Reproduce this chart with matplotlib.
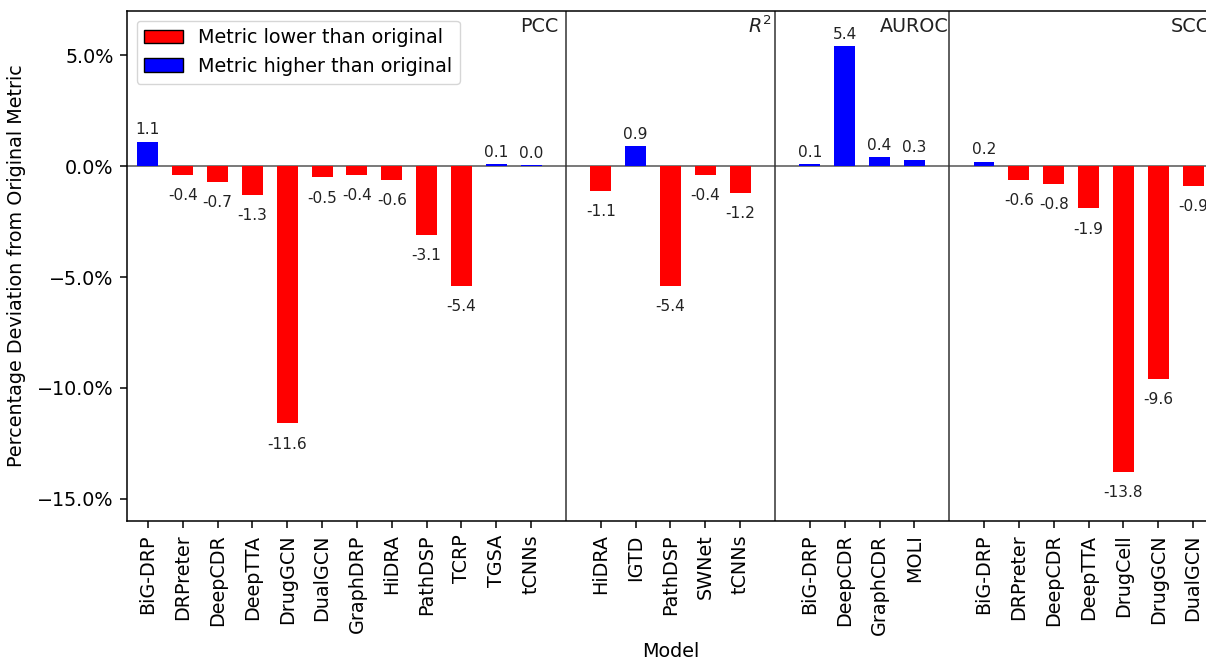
# percentage deviation of each model's metric from the original paper
import matplotlib
matplotlib.use('Agg')
import matplotlib.pyplot as plt
from matplotlib.patches import Patch
from matplotlib.ticker import PercentFormatter
import matplotlib.transforms as mtransforms

# groups of models, one list per metric
pcc_models = ['BiG-DRP', 'DRPreter', 'DeepCDR', 'DeepTTA', 'DrugGCN', 'DualGCN',
              'GraphDRP', 'HiDRA', 'PathDSP', 'TCRP', 'TGSA', 'tCNNs']
pcc_values = [1.1, -0.4, -0.7, -1.3, -11.6, -0.5, -0.4, -0.6, -3.1, -5.4, 0.08, 0.045]

r2_models = ['HiDRA', 'IGTD', 'PathDSP', 'SWNet', 'tCNNs']
r2_values = [-1.1, 0.9, -5.4, -0.4, -1.2]

auroc_models = ['BiG-DRP', 'DeepCDR', 'GraphCDR', 'MOLI']
auroc_values = [0.1, 5.4, 0.4, 0.3]

scc_models = ['BiG-DRP', 'DRPreter', 'DeepCDR', 'DeepTTA', 'DrugCell', 'DrugGCN', 'DualGCN']
scc_values = [0.2, -0.6, -0.8, -1.9, -13.8, -9.6, -0.9]

group_names = ['PCC', '$R^2$', 'AUROC', 'SCC']
group_models = [pcc_models, r2_models, auroc_models, scc_models]
group_values = [pcc_values, r2_values, auroc_values, scc_values]

# the original looks like a 10pt figure rendered at ~138 dpi, so scale everything
s = 1.38
plt.rcParams['axes.linewidth'] = 0.8 * s
plt.rcParams['xtick.major.size'] = 3.5 * s
plt.rcParams['ytick.major.size'] = 3.5 * s
plt.rcParams['xtick.major.width'] = 0.8 * s
plt.rcParams['ytick.major.width'] = 0.8 * s
plt.rcParams['xtick.major.pad'] = 3.5 * s
plt.rcParams['ytick.major.pad'] = 3.5 * s
plt.rcParams['legend.edgecolor'] = '0.8'

fig = plt.figure(figsize=(12.06, 6.59), dpi=100)
# axes run a little past the right edge like the original
ax = fig.add_axes([0.1053, 0.2094, 0.9013, 0.7739])

fs = 10 * s
x = []
labels = []
vals = []
dividers = []
pos = 0
for models, values in zip(group_models, group_values):
    for m, v in zip(models, values):
        x.append(pos)
        labels.append(m)
        vals.append(v)
        pos += 1
    dividers.append(pos)
    pos += 1

colors = ['blue' if v >= 0 else 'red' for v in vals]
bars = ax.bar(x, vals, width=0.6, color=colors, zorder=2)

for b, v in zip(bars, vals):
    cx = b.get_x() + b.get_width() / 2
    if v >= 0:
        ax.annotate(f'{v:.1f}', (cx, v), xytext=(0, 3.2), textcoords='offset points',
                    ha='center', va='bottom', fontsize=8 * s, color='#222222')
    else:
        ax.annotate(f'{v:.1f}', (cx, v), xytext=(0, -9.5), textcoords='offset points',
                    ha='center', va='top', fontsize=8 * s, color='#222222')

# zero line under the bars so the tiny ones stay visible
ax.axhline(0, color='#555555', linewidth=0.8 * s, zorder=1)
for d in dividers[:-1]:
    ax.axvline(d, color='#333333', linewidth=0.8 * s, zorder=1)

# metric names in the upper right of each group
trans = mtransforms.blended_transform_factory(ax.transData, ax.transAxes)
name_pos = [11.79, 17.92, 22.97, 30.49]
for nm, px in zip(group_names, name_pos):
    ax.text(px, 0.97, nm, transform=trans, ha='right', va='center', fontsize=fs,
            color='#222222')

ax.set_xlim(-0.6, 30.6)
ax.set_ylim(-16, 7)
ax.set_yticks([5, 0, -5, -10, -15])
ax.yaxis.set_major_formatter(PercentFormatter(xmax=100, decimals=1))
ax.set_xticks(x)
ax.set_xticklabels(labels, rotation=90)
ax.tick_params(labelsize=fs)
ax.set_xlabel('Model', fontsize=fs, labelpad=4 * s)
ax.set_ylabel('Percentage Deviation from Original Metric', fontsize=fs, labelpad=8)

handles = [Patch(facecolor='red', edgecolor='black', label='Metric lower than original'),
           Patch(facecolor='blue', edgecolor='black', label='Metric higher than original')]
ax.legend(handles=handles, loc='upper left', fontsize=fs)

fig.savefig('out.png', dpi=100)
